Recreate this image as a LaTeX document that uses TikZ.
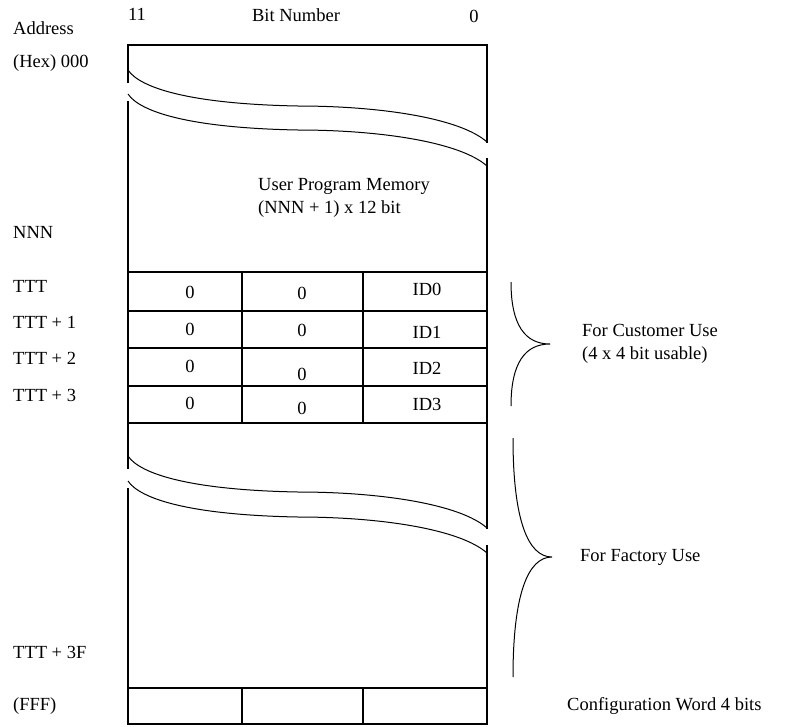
\documentclass[tikz,border=0pt]{standalone}
\usepackage{fontspec}
\setmainfont{Liberation Serif}
\begin{document}
\begin{tikzpicture}[x=1pt,y=-1pt,
  txt/.style={inner sep=0pt, font=\fontsize{18.5}{22}\selectfont},
  lbl/.style={txt, anchor=west},
  boxline/.style={line width=2pt},
  thinline/.style={line width=1pt}]
\useasboundingbox (0,0) rectangle (800,726);
% outer box with breaks
\draw[boxline] (128,83) -- (128,45) -- (487,45) -- (487,143);
\draw[boxline] (128,101) -- (128,469);
\draw[boxline] (487,158) -- (487,529);
\draw[boxline] (128,488) -- (128,724) -- (487,724) -- (487,545);
% break curves
\foreach \y in {70,94,456,481} {
  \draw[thinline] (128,\y) .. controls (140,\y+18) and (190,\y+34) .. (298,\y+36)
     .. controls (380,\y+36) and (460,\y+48) .. (487,\y+72);
}
% ID rows
\foreach \y in {272,311,348,386,423} { \draw[boxline] (128,\y) -- (487,\y); }
\foreach \x in {242,363} { \draw[boxline] (\x,272) -- (\x,423); }
% configuration row
\draw[boxline] (128,688) -- (487,688);
\foreach \x in {242,363} { \draw[boxline] (\x,688) -- (\x,724); }
% header
\node[txt] (b11) at (137,14) {11};
\node[txt] (bnum) at (296,15) {Bit Number};
\node[txt] (b0) at (474,16) {0};
% address labels
\node[lbl] (addr) at (13,28) {Address};
\node[lbl] (hex) at (13,63) {(Hex) 000};
\node[lbl] (nnn) at (13,232) {NNN};
\node[lbl] (t0) at (13,286) {TTT};
\node[lbl] (t1) at (13,322) {TTT + 1};
\node[lbl] (t2) at (13,358) {TTT + 2};
\node[lbl] (t3) at (13,395) {TTT + 3};
\node[lbl] (t3f) at (13,652) {TTT + 3F};
\node[lbl] (fff) at (13,706) {(FFF)};
% memory text
\node[lbl] (upm) at (258,186) {User Program Memory};
\node[lbl] (upm2) at (258,209) {(NNN + 1) x 12 bit};
% cells
\node[txt] (c00) at (190,292) {0};
\node[txt] (c01) at (302,293) {0};
\node[txt] (c02) at (427,289) {ID0};
\node[txt] (c10) at (190,329) {0};
\node[txt] (c11) at (302,330) {0};
\node[txt] (c12) at (427,332) {ID1};
\node[txt] (c20) at (190,366) {0};
\node[txt] (c21) at (302,374) {0};
\node[txt] (c22) at (427,368) {ID2};
\node[txt] (c30) at (190,403) {0};
\node[txt] (c31) at (302,408) {0};
\node[txt] (c32) at (427,404) {ID3};
% braces
\draw[thinline] (511,282) .. controls (511,325) and (525,344) .. (550,344)
   .. controls (525,344) and (511,363) .. (511,406);
\draw[thinline] (513,438) .. controls (513,520) and (528,557) .. (552,557)
   .. controls (528,557) and (513,594) .. (513,677);
% right labels
\node[lbl] (cust) at (582,330) {For Customer Use};
\node[lbl] (cust2) at (582,355) {(4 x 4 bit usable)};
\node[lbl] (fact) at (580,557) {For Factory Use};
\node[lbl] (conf) at (567,706) {Configuration Word 4 bits};
\end{tikzpicture}
\end{document}
